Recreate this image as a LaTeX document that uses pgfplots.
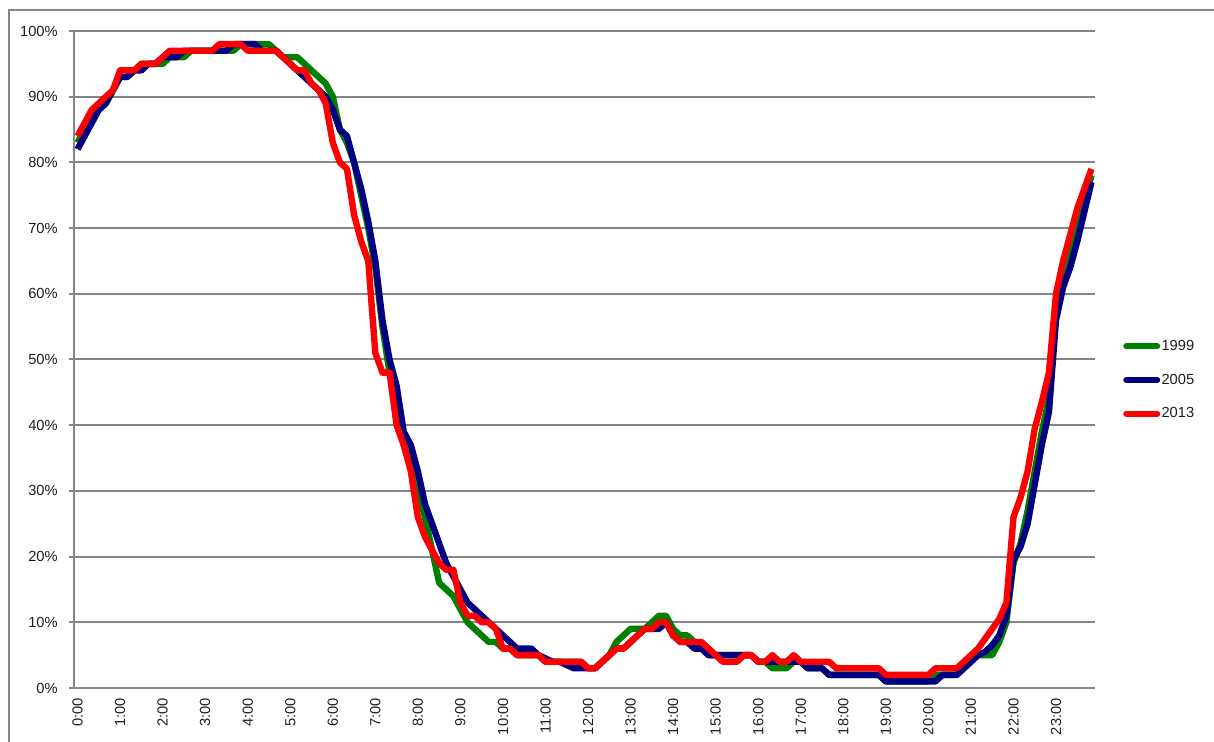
\documentclass[border=0pt]{standalone}
\usepackage{fontspec}
\setmainfont{Liberation Sans}
\usepackage{pgfplots}
\pgfplotsset{compat=1.18}
\usepackage{pgfplotstable}
\definecolor{cg}{RGB}{0,128,0}
\definecolor{cb}{RGB}{0,0,128}
\definecolor{cr}{RGB}{255,0,0}
\definecolor{axgray}{RGB}{134,134,134}
\definecolor{txt}{RGB}{30,30,30}

\pgfplotstableread{
i g b r
0 83 82 84
1 85 84 86
2 87 86 88
3 88 88 89
4 89 89 90
5 91 91 91
6 93 93 94
7 93 93 94
8 94 94 94
9 95 94 95
10 95 95 95
11 95 95 95
12 95 96 96
13 96 96 97
14 96 96 97
15 96 97 97
16 97 97 97
17 97 97 97
18 97 97 97
19 97 97 97
20 97 97 98
21 97 97 98
22 97 98 98
23 98 98 98
24 98 98 97
25 98 98 97
26 98 97 97
27 98 97 97
28 97 97 97
29 96 96 96
30 96 95 95
31 96 94 94
32 95 93 94
33 94 92 92
34 93 91 91
35 92 90 89
36 90 88 83
37 85 85 80
38 83 84 79
39 80 80 72
40 75 76 68
41 70 71 65
42 64 65 51
43 55 56 48
44 48 50 48
45 44 46 40
46 37 39 37
47 34 37 33
48 30 33 26
49 26 28 23
50 21 25 21
51 16 22 19
52 15 19 18
53 14 17 18
54 12 15 13
55 10 13 11
56 9 12 11
57 8 11 10
58 7 10 10
59 7 9 9
60 6 8 6
61 6 7 6
62 5 6 5
63 5 6 5
64 5 6 5
65 5 5 5
66 4 4.5 4
67 4 4 4
68 4 4 4
69 4 3.5 4
70 4 3 4
71 4 3 4
72 3 3 3
73 3 3 3
74 4 4 4
75 5 5 5
76 7 6 6
77 8 6 6
78 9 7 7
79 9 8 8
80 9 9 9
81 10 9 9
82 11 9 10
83 11 10 10
84 9 8 8
85 8 7 7
86 8 7 7
87 7 6 7
88 6 6 7
89 5 5 6
90 5 5 5
91 5 5 4
92 5 5 4
93 5 5 4
94 5 5 5
95 5 5 5
96 4 4 4
97 4 4 4
98 3 4 5
99 3 4 4
100 3 4 4
101 4 4 5
102 4 4 4
103 3 3 4
104 3 3 4
105 3 3 4
106 2 2 4
107 2 2 3
108 2 2 3
109 2 2 3
110 2 2 3
111 2 2 3
112 2 2 3
113 2 2 3
114 1 1 2
115 1 1 2
116 1 1 2
117 1 1 2
118 1 1 2
119 1 1 2
120 1 1 2
121 2 1 3
122 2 2 3
123 2 2 3
124 2 2 3
125 3 3 4
126 4 4 5
127 5 5 6
128 5 5.5 7.5
129 5 6.5 9
130 7 8 10.5
131 10 11 13
132 19 19.5 26
133 22 21.5 29
134 27 25 33
135 33 31 39.5
136 39 37 43.5
137 44 42 48
138 57 56 60
139 62 61 65
140 66 64 69
141 70 68 73
142 74 72.5 76
143 78 77 79
}\data

\begin{document}
\begin{tikzpicture}[x=1pt,y=1pt]
\useasboundingbox (0,0) rectangle (910.5,556.5);
\draw[axgray, line width=1.5pt] (6.75,-2) -- (6.75,549) -- (912,549);
\begin{axis}[
  at={(55.5pt,40.5pt)}, anchor=south west,
  scale only axis, width=765.75pt, height=492.75pt,
  xmin=-0.5, xmax=143.5, ymin=0, ymax=100,
  axis x line=bottom, axis y line=left,
  axis line style={-, axgray, line width=1.5pt},
  tick align=outside,
  major tick length=3.75pt, minor tick length=3.5pt,
  tick style={axgray, line width=1.5pt},
  ytick={0,10,...,100},
  yticklabels={0\%,10\%,20\%,30\%,40\%,50\%,60\%,70\%,80\%,90\%,100\%},
  xtick={0,6,...,138},
  xticklabels={0:00,1:00,2:00,3:00,4:00,5:00,6:00,7:00,8:00,9:00,10:00,11:00,12:00,13:00,14:00,15:00,16:00,17:00,18:00,19:00,20:00,21:00,22:00,23:00},
  xtick style={draw=none},
  minor xtick={-0.5,2.5,...,143.5},
  ymajorgrids, grid style={axgray, line width=1.5pt},
  ticklabel style={font=\fontsize{11}{13}\selectfont, text=txt},
  yticklabel style={anchor=east, xshift=-5pt},
  xticklabel style={rotate=90, anchor=east, xshift=-0.5pt},
  legend style={at={(1.0274,0.4688)}, anchor=west, draw=none, fill=none,
    font=\fontsize{11}{13}\selectfont, text=txt, row sep=16pt,
    inner sep=0pt, nodes={inner xsep=1pt, inner ysep=0pt}},
  legend cell align=left,
  legend image code/.code={\draw[#1, line width=4.5pt, line cap=round] (2.25pt,0pt) -- (25.5pt,0pt);},
  clip=false,
]
\addplot[cg, line width=4.8pt, line join=round, no markers] table[x=i, y=g] {\data};
\addplot[cb, line width=4.8pt, line join=round, no markers] table[x=i, y=b] {\data};
\addplot[cr, line width=4.8pt, line join=round, no markers] table[x=i, y=r] {\data};
\legend{1999,2005,2013}
\end{axis}
\end{tikzpicture}
\end{document}
